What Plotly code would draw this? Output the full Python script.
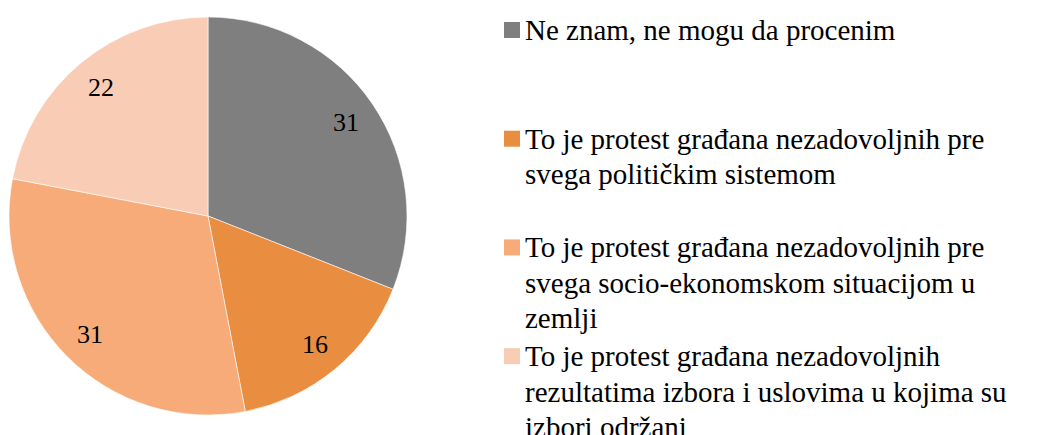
import math

import plotly.graph_objects as go

categories = [
    "Ne znam, ne mogu da procenim",
    "To je protest građana nezadovoljnih pre svega političkim sistemom",
    "To je protest građana nezadovoljnih pre svega socio-ekonomskom situacijom u zemlji",
    "To je protest građana nezadovoljnih rezultatima izbora i uslovima u kojima su izbori održani",
]
# how each legend entry wraps, as in the reference
legend_lines = [
    ["Ne znam, ne mogu da procenim"],
    ["To je protest građana nezadovoljnih pre", "svega političkim sistemom"],
    ["To je protest građana nezadovoljnih pre", "svega socio-ekonomskom situacijom u", "zemlji"],
    ["To je protest građana nezadovoljnih", "rezultatima izbora i uslovima u kojima su", "izbori održani"],
]
values = [31, 16, 31, 22]
colors = ["#7F7F7F", "#E98D41", "#F6AB78", "#F9CCB5"]

W, H = 1058, 435
FONT = "Liberation Serif"
INK = "#000000"

# pie geometry in pixels (centre + radius), margins are zero so paper == pixels
CX, CY, R = 208, 216, 199
LABEL_R = 0.84

fig = go.Figure(
    go.Pie(
        values=values,
        labels=categories,
        marker=dict(colors=colors, line=dict(color="white", width=0.6)),
        sort=False,
        direction="clockwise",
        rotation=0,
        textinfo="none",
        domain=dict(x=[(CX - R) / W, (CX + R) / W], y=[1 - (CY + R) / H, 1 - (CY - R) / H]),
        showlegend=False,
        hoverinfo="label+value",
    )
)

annotations = []
shapes = []

# slice value labels, placed at each slice's mid angle
total = sum(values)
cum = 0
for v in values:
    mid = (cum + v / 2) / total * 2 * math.pi
    cum += v
    px = CX + LABEL_R * R * math.sin(mid)
    py = CY - LABEL_R * R * math.cos(mid)
    annotations.append(
        dict(x=px / W, y=1 - py / H, xref="paper", yref="paper", text=str(v), showarrow=False,
             font=dict(family=FONT, size=26, color=INK), xanchor="center", yanchor="middle")
    )

# legend drawn by hand: items spread evenly down the right side
LEG_SQ_X, LEG_TEXT_X = 504, 524
LEG_TOP, LEG_STEP, LINE, SQ = 30, 108.7, 35.5, 16
LEG_FONT = 29
for i, (lines, col) in enumerate(zip(legend_lines, colors)):
    yc = LEG_TOP + i * LEG_STEP
    shapes.append(
        dict(type="rect", xref="paper", yref="paper",
             x0=LEG_SQ_X / W, x1=(LEG_SQ_X + SQ) / W,
             y0=1 - (yc + SQ / 2) / H, y1=1 - (yc - SQ / 2) / H,
             fillcolor=col, line=dict(width=0))
    )
    for j, line in enumerate(lines):
        annotations.append(
            dict(x=LEG_TEXT_X / W, y=1 - (yc + j * LINE) / H, xref="paper", yref="paper",
                 text=line, showarrow=False, align="left", xanchor="left", yanchor="middle",
                 borderpad=0, font=dict(family=FONT, size=LEG_FONT, color=INK))
        )

fig.update_layout(
    width=W,
    height=H,
    margin=dict(l=0, r=0, t=0, b=0),
    paper_bgcolor="white",
    plot_bgcolor="white",
    annotations=annotations,
    shapes=shapes,
    font=dict(family=FONT, color=INK),
)

# drop the browser's default body margin so the figure sits at the page corner
fig.write_html(
    "out.html",
    config={"displayModeBar": False},
    post_script="document.body.style.margin = '0';",
)
